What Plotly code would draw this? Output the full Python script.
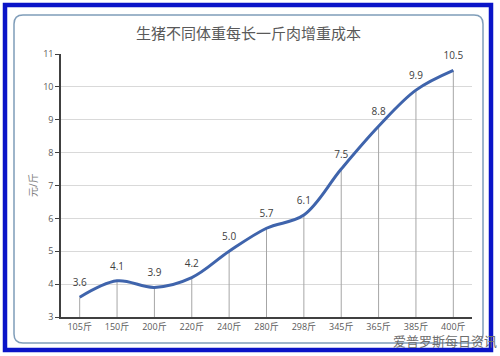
import plotly.graph_objects as go

categories = ["105斤", "150斤", "200斤", "220斤", "240斤", "280斤", "298斤", "345斤", "365斤", "385斤", "400斤"]
cost = [3.6, 4.1, 3.9, 4.2, 5.0, 5.7, 6.1, 7.5, 8.8, 9.9, 10.5]
cost_labels = ["3.6", "4.1", "3.9", "4.2", "5.0", "5.7", "6.1", "7.5", "8.8", "9.9", "10.5"]
y_min = 3
y_max = 11

W, H = 500, 356
L, R, T, B = 61, 472, 54, 317

def px(x):
    return (x - L) / (R - L)

def py(y):
    return (B - y) / (B - T)

def rounded_path(x0, y0, x1, y1, r):
    pts = []
    pts.append(f"M {px(x0 + r)},{py(y0)}")
    pts.append(f"L {px(x1 - r)},{py(y0)}")
    pts.append(f"Q {px(x1)},{py(y0)} {px(x1)},{py(y0 + r)}")
    pts.append(f"L {px(x1)},{py(y1 - r)}")
    pts.append(f"Q {px(x1)},{py(y1)} {px(x1 - r)},{py(y1)}")
    pts.append(f"L {px(x0 + r)},{py(y1)}")
    pts.append(f"Q {px(x0)},{py(y1)} {px(x0)},{py(y1 - r)}")
    pts.append(f"L {px(x0)},{py(y0 + r)}")
    pts.append(f"Q {px(x0)},{py(y0)} {px(x0 + r)},{py(y0)}")
    pts.append("Z")
    return " ".join(pts)

font_family = "Open Sans, Noto Sans CJK SC, sans-serif"

fig = go.Figure()
# drop lines from each point down to the axis
fig.add_trace(go.Scatter(
    x=categories,
    y=cost,
    mode="markers",
    marker=dict(size=1, opacity=0),
    error_y=dict(
        type="data", symmetric=False,
        array=[0] * len(cost),
        arrayminus=[v - y_min for v in cost],
        color="#A6A6A6", thickness=1, width=0,
    ),
    hoverinfo="skip",
    showlegend=False,
))
fig.add_trace(go.Scatter(
    x=categories,
    y=cost,
    mode="lines+markers+text",
    text=cost_labels,
    textposition="top center",
    textfont=dict(size=10, color="#404040", family=font_family),
    marker=dict(size=12, color="rgba(0,0,0,0)"),
    line=dict(color="#3F64AC", width=3, shape="spline", smoothing=1.0),
    cliponaxis=False,
    hoverinfo="skip",
    showlegend=False,
))

shapes = [
    dict(type="rect", xref="paper", yref="paper",
         x0=px(5), x1=px(491), y0=py(5), y1=py(350),
         line=dict(color="#0A14C8", width=4.5), fillcolor="rgba(0,0,0,0)", layer="above"),
    dict(type="path", xref="paper", yref="paper",
         path=rounded_path(14, 15, 483, 343, 9),
         line=dict(color="#7F9DB9", width=1.5), fillcolor="white", layer="below"),
]

annotations = [
    dict(text="生猪不同体重每长一斤肉增重成本", xref="paper", yref="paper",
         x=0.5 * (px(14) + px(483)), y=py(33), showarrow=False,
         font=dict(size=15, color="#595959", family=font_family),
         xanchor="center", yanchor="middle"),
    dict(text="元/斤", xref="paper", yref="paper", x=px(33), y=py(185),
         showarrow=False, textangle=-90,
         font=dict(size=10, color="#7F7F7F", family=font_family),
         xanchor="center", yanchor="middle"),
    dict(text="爱普罗斯每日资讯", xref="paper", yref="paper", x=px(445), y=py(341),
         showarrow=False,
         font=dict(size=13, color="#6E6E6E", family=font_family),
         xanchor="center", yanchor="middle"),
]

fig.update_layout(
    width=W, height=H,
    margin=dict(l=L, r=W - R, t=T, b=H - B),
    paper_bgcolor="white",
    plot_bgcolor="rgba(0,0,0,0)",
    shapes=shapes,
    annotations=annotations,
    xaxis=dict(
        type="category", range=[-0.5, len(categories) - 0.5],
        showgrid=False, showline=True, linecolor="#404040", linewidth=1.5,
        ticks="", tickfont=dict(size=9, color="#595959", family=font_family),
        fixedrange=True,
    ),
    yaxis=dict(
        range=[y_min, y_max], dtick=1, showgrid=True, gridcolor="#D9D9D9", gridwidth=1,
        showline=True, linecolor="#404040", linewidth=1.5,
        ticks="outside", ticklen=4, tickcolor="#404040",
        tickfont=dict(size=9, color="#595959", family=font_family),
        zeroline=False, fixedrange=True,
    ),
)

fig.write_html("out.html", config={"displayModeBar": False},
               post_script="document.body.style.margin='0';")
